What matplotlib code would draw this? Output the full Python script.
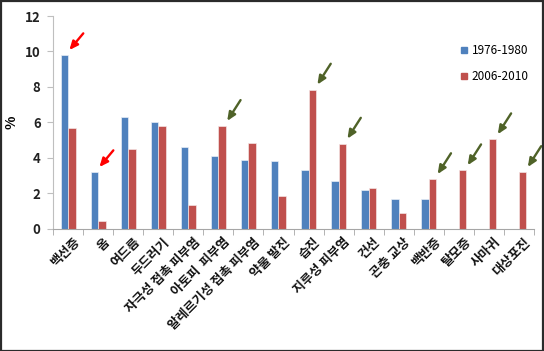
import matplotlib
matplotlib.use("Agg")
import matplotlib.pyplot as plt
import matplotlib.transforms as mtransforms
import numpy as np
from matplotlib.lines import Line2D
from matplotlib.patches import Rectangle

plt.rcParams['font.family'] = ['Noto Sans CJK KR', 'DejaVu Sans']

categories = ["백선증", "옴", "여드름", "두드러기", "자극성 접촉 피부염", "아토피  피부염",
              "알레르기성 접촉 피부염", "약물 발진", "습진", "지루성 피부염", "건선",
              "곤충 교상", "백반증", "탈모증", "사마귀", "대상포진"]
series_names = ["1976-1980", "2006-2010"]
values_1976 = [9.8, 3.2, 6.3, 6.0, 4.6, 4.1, 3.9, 3.8, 3.3, 2.7, 2.2, 1.7, 1.7, 0, 0, 0]
values_2006 = [5.7, 0.45, 4.5, 5.8, 1.35, 5.8, 4.85, 1.85, 7.85, 4.8, 2.3, 0.9, 2.8, 3.3, 5.05, 3.2]
yticks = [0, 2, 4, 6, 8, 10, 12]
# arrows point at: red -> 1976-1980 bars, green -> 2006-2010 bars
red_arrows = [0, 1]
green_arrows = [5, 8, 9, 12, 13, 14, 15]

blue = "#4F81BD"
red = "#C0504D"

fig = plt.figure(figsize=(5.44, 3.51), dpi=100)
ax = fig.add_axes([53/544, 1-228.7/351, (534-53)/544, (228.7-16)/351])

x = np.arange(len(categories))
w = 0.25
ax.bar(x - w/2, values_1976, w, color=blue, edgecolor="#E8EEF6", linewidth=0.5, label=series_names[0])
ax.bar(x + w/2, values_2006, w, color=red, edgecolor="#F4E4E4", linewidth=0.5, label=series_names[1])

ax.set_xlim(-0.5, len(categories) - 0.5)
ax.set_ylim(0, 12)
ax.set_yticks(yticks)
ax.set_yticklabels([str(t) for t in yticks], fontsize=9.5, fontweight='bold', color="#222222")
ax.tick_params(axis='y', length=4, color="#BFBFBF", pad=5)

ax.set_xticks(x)
ax.set_xticklabels(categories, rotation=45, ha='right', rotation_mode='anchor',
                   fontsize=9.2, fontweight='bold', color="#111111")
ax.tick_params(axis='x', which='major', length=0, pad=5)
offset = mtransforms.ScaledTranslation(5/100, 0, fig.dpi_scale_trans)
for lbl in ax.get_xticklabels():
    lbl.set_transform(lbl.get_transform() + offset)
ax.set_xticks(np.arange(len(categories) + 1) - 0.5, minor=True)
ax.tick_params(axis='x', which='minor', length=4, color="#A6A6A6")

for s in ['top', 'right']:
    ax.spines[s].set_visible(False)
ax.spines['left'].set_color("#BFBFBF")
ax.spines['bottom'].set_color("#A6A6A6")

ax.set_ylabel("%", fontsize=10, fontweight='bold')
ax.yaxis.set_label_coords((18 - 53) / 481, 0.5)

def arrow(i, s, color, tail):
    val = values_1976[i] if s == 0 else values_2006[i]
    xc = x[i] - w/2 if s == 0 else x[i] + w/2
    ax.annotate("", xy=(xc + 0.17, val + 0.28), xycoords='data',
                xytext=tail, textcoords='offset points',
                arrowprops=dict(arrowstyle='-|>,head_length=0.5,head_width=0.22',
                                color=color, lw=1.7, shrinkA=0, shrinkB=0),
                annotation_clip=False)

for i in red_arrows:
    arrow(i, 0, "#FF0000", (10, 12))
for i in green_arrows:
    arrow(i, 1, "#4F6228", (9.6, 15))

handles = [Line2D([], [], marker='s', color=blue, linestyle='none', markersize=5),
           Line2D([], [], marker='s', color=red, linestyle='none', markersize=5)]
fig.legend(handles, series_names, loc='upper left', bbox_to_anchor=(456/544, 1-39/351),
           frameon=False, fontsize=8.5, labelspacing=1.15, handlelength=0.6,
           handletextpad=0.35, borderaxespad=0)

fig.patches.append(Rectangle((0.5/544, 0.5/351), 1-1.5/544, 1-1.5/351, transform=fig.transFigure,
                             fill=False, edgecolor="#2B2B2B", linewidth=1.6))

fig.savefig("out.png", dpi=100)
